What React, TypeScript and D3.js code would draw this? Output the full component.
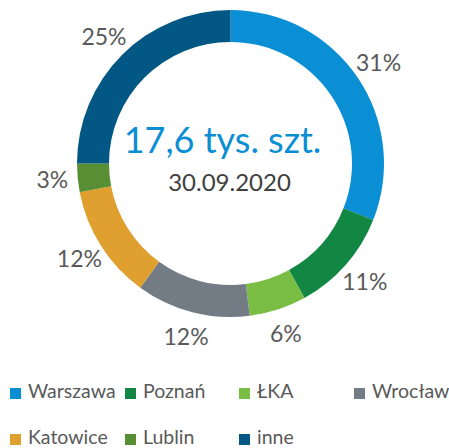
import React from "react";
import { pie, arc, PieArcDatum } from "d3";

const width = 449;
const height = 448;
const cx = 230.5;
const cy = 163.5;
const outerR = 153.5;
const innerR = 121.5;
const labelR = 179;

const categories = ["Warszawa", "Poznań", "ŁKA", "Wrocław", "Katowice", "Lublin", "inne"];
const shares = [31, 11, 6, 12, 12, 3, 25];
const colors = ["#0A8ED4", "#128743", "#79BD44", "#737C84", "#E0A030", "#588F35", "#035784"];
const legendCols = [10, 125, 239, 354];

type Slice = { name: string; value: number; color: string };
const slices: Slice[] = categories.map((name, i) => ({ name, value: shares[i], color: colors[i] }));

const App = () => {
  const arcs = pie<Slice>().value((d) => d.value).sort(null)(slices);
  const ring = arc<PieArcDatum<Slice>>().innerRadius(innerR).outerRadius(outerR);
  const labelArc = arc<PieArcDatum<Slice>>().innerRadius(labelR).outerRadius(labelR);

  return (
    <svg
      width={width}
      height={height}
      style={{ position: "absolute", left: 0, top: 0, fontFamily: "Lato, sans-serif" }}
    >
      <rect width={width} height={height} fill="#fff" />
      <g transform={`translate(${cx},${cy})`}>
        {arcs.map((a) => (
          <path key={a.data.name} d={ring(a) || ""} fill={a.data.color} />
        ))}
        {arcs.map((a) => {
          const [x, y] = labelArc.centroid(a);
          // baseline set so the digits' cap centre sits on the label point
          return (
            <text
              key={"l" + a.data.name}
              x={x}
              y={y + 8}
              textAnchor="middle"
              fontSize={23}
              fill="#595959"
            >
              {a.data.value}%
            </text>
          );
        })}
        <text x={-8} y={-11} textAnchor="middle" fontSize={36} fill="#0A8ED4">
          17,6 tys. szt.
        </text>
        <text x={-1} y={27} textAnchor="middle" fontSize={24} fill="#404040">
          30.09.2020
        </text>
      </g>
      {slices.map((s, i) => {
        const col = i < 4 ? i : i - 4;
        const row = i < 4 ? 0 : 1;
        const x = legendCols[col];
        const y = 398 + row * 46;
        return (
          <g key={"lg" + s.name}>
            <rect x={x} y={y - 10} width={11} height={11} fill={s.color} />
            <text x={x + 18} y={y} fontSize={19.5} fill="#595959">
              {s.name}
            </text>
          </g>
        );
      })}
    </svg>
  );
};

export default App;
